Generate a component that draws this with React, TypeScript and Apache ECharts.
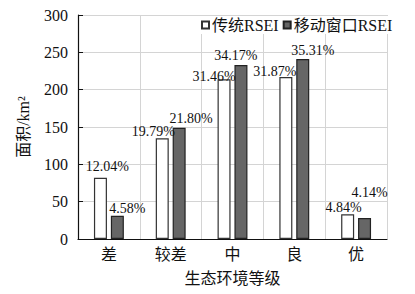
import React, { useEffect, useRef } from "react";
import * as echarts from "echarts";

const categories = ["差", "较差", "中", "良", "优"];
const seriesNames = ["传统RSEI", "移动窗口RSEI"];
const traditional = [82, 135, 214, 217, 33];
const movingWindow = [31, 149, 233, 241, 28];
const traditionalPct = ["12.04%", "19.79%", "31.46%", "31.87%", "4.84%"];
const movingWindowPct = ["4.58%", "21.80%", "34.17%", "35.31%", "4.14%"];
const yTicks = [0, 50, 100, 150, 200, 250, 300];

// label nudges (manual placement as in the source figure)
const tradOffsets: [number, number][] = [[7, -4], [-9, 0], [-10, 4], [-11, 2], [-4, 0]];
const mwOffsets: [number, number][] = [[10, 0], [12, -2], [-5, -3], [10, -2], [5, -19]];

const FONT = "'Liberation Serif', 'Times New Roman', 'Noto Sans CJK SC', serif";

export default function App() {
  const ref = useRef<HTMLDivElement>(null);
  useEffect(() => {
    if (!ref.current) return;
    const chart = echarts.init(ref.current, null, { renderer: "svg" });
    const mk = (vals: number[], pcts: string[], offs: [number, number][]) =>
      vals.map((v, i) => ({
        value: v,
        label: {
          show: true,
          position: "top",
          distance: 0,
          offset: offs[i],
          formatter: pcts[i],
        },
      }));
    chart.setOption({
      animation: false,
      backgroundColor: "#ffffff",
      textStyle: { fontFamily: FONT },
      grid: { left: 78, right: 28, top: 15, bottom: 55, containLabel: false },
      legend: {
        data: seriesNames,
        top: 16,
        left: 199,
        itemWidth: 7,
        itemHeight: 7,
        itemGap: 4,
        icon: "rect",
        textStyle: { fontFamily: FONT, fontSize: 16, color: "#111", padding: [0, 0, 0, -2] },
        backgroundColor: "#ffffff",
        padding: [1, 2, 1, 2],
      },
      xAxis: {
        type: "category",
        data: categories,
        name: "生态环境等级",
        nameLocation: "middle",
        nameGap: 31,
        nameTextStyle: { fontFamily: FONT, fontSize: 16, color: "#111" },
        axisLine: { show: true, lineStyle: { color: "#111", width: 1.2 } },
        axisTick: { show: false },
        axisLabel: { fontFamily: FONT, fontSize: 16, color: "#111", margin: 7 },
        splitLine: { show: true, lineStyle: { color: "#d4d4d4", width: 1 } },
      },
      yAxis: {
        type: "value",
        min: yTicks[0],
        max: yTicks[yTicks.length - 1],
        interval: 50,
        name: "面积/km²",
        nameLocation: "middle",
        nameGap: 47,
        nameTextStyle: { fontFamily: FONT, fontSize: 16, color: "#111" },
        axisLine: { show: true, lineStyle: { color: "#111", width: 1.2 } },
        axisTick: { show: true, inside: true, length: 5, lineStyle: { color: "#111" } },
        axisLabel: { fontFamily: FONT, fontSize: 16, color: "#111", margin: 10 },
        splitLine: { show: true, lineStyle: { color: "#d4d4d4", width: 1 } },
      },
      series: [
        {
          name: seriesNames[0],
          type: "bar",
          barWidth: 13,
          barGap: "30%",
          itemStyle: { color: "#ffffff", borderColor: "#333333", borderWidth: 1.2 },
          label: { fontFamily: FONT, fontSize: 14, color: "#111" },
          data: mk(traditional, traditionalPct, tradOffsets),
        },
        {
          name: seriesNames[1],
          type: "bar",
          barWidth: 13,
          barGap: "30%",
          itemStyle: { color: "#666666", borderColor: "#222222", borderWidth: 1.2 },
          label: { fontFamily: FONT, fontSize: 14, color: "#111" },
          data: mk(movingWindow, movingWindowPct, mwOffsets),
        },
      ],
    });
    return () => chart.dispose();
  }, []);
  return <div ref={ref} style={{ width: 415, height: 294, position: "absolute", left: 0, top: 0 }} />;
}
